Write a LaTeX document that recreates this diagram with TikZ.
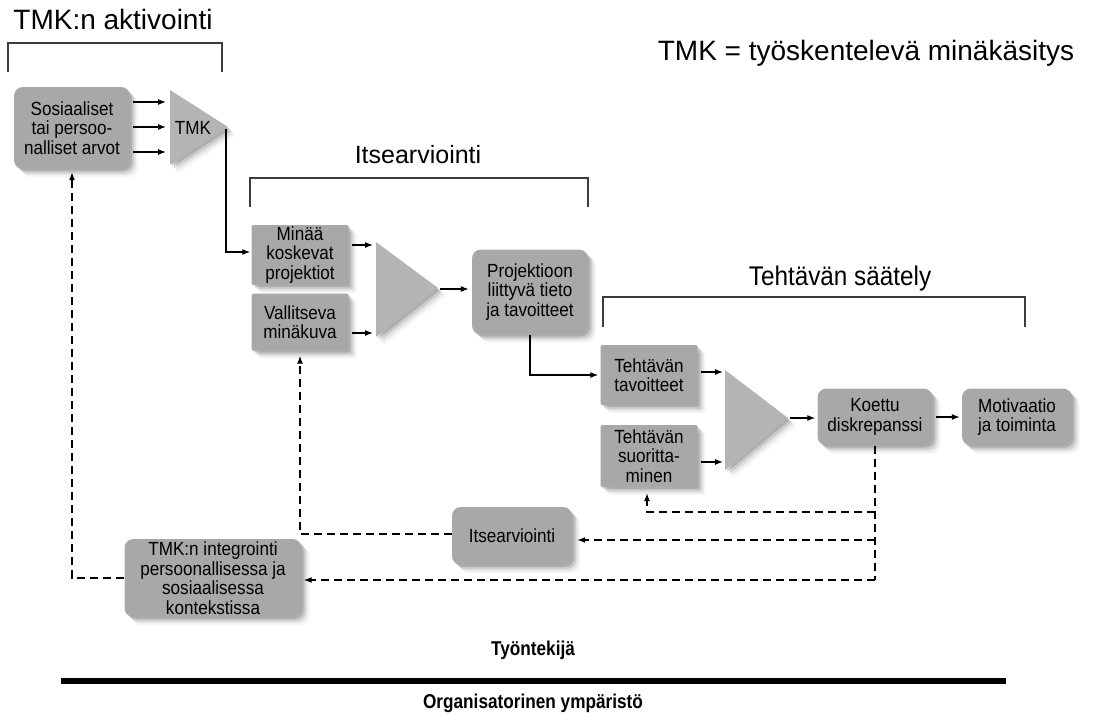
\documentclass[tikz,border=0pt]{standalone}
\usepackage{fontspec}
\setmainfont{Liberation Sans}
\newfontfamily\narrowfont{Liberation Sans}[FakeStretch=0.9]
\newfontfamily\narrowbold{Liberation Sans Bold}[FakeStretch=0.86]
\usetikzlibrary{arrows.meta,shadows,calc}
\definecolor{boxfill}{RGB}{168,168,168}
\definecolor{trifill}{RGB}{180,180,180}
\definecolor{brkcol}{RGB}{60,60,60}
\tikzset{
  x=1pt,y=-1pt,
  nodefont/.style={font=\narrowfont\fontsize{19}{19.5}\selectfont},
  shad/.style={
    general shadow={shadow xshift=2pt,shadow yshift=-2pt,opacity=0.14,fill=black},
    general shadow={shadow xshift=4pt,shadow yshift=-4pt,opacity=0.11,fill=black},
    general shadow={shadow xshift=6pt,shadow yshift=-6pt,opacity=0.07,fill=black},
    general shadow={shadow xshift=8pt,shadow yshift=-8pt,opacity=0.04,fill=black}},
  basebox/.style={nodefont,fill=boxfill,align=center,inner sep=0pt,shad},
  rbox/.style={basebox,rounded corners=9pt},
  sbox/.style={basebox,rounded corners=1.5pt},
  tri/.style={fill=trifill,shad},
  arr/.style={line width=1.2pt,-{Latex[length=8pt,width=6pt]}},
  dsh/.style={line width=1.2pt,dash pattern=on 8pt off 5pt},
  brk/.style={draw=brkcol,line width=1.6pt},
  head/.style={anchor=base,inner sep=0pt},
  foot/.style={font=\narrowbold\fontsize{20}{22}\selectfont,anchor=base,inner sep=0pt},
}
\begin{document}
\begin{tikzpicture}
\useasboundingbox (0,0) rectangle (1097,717);

% headers and brackets
\node[head,font=\fontsize{28}{30}\selectfont] (h1) at (113,30) {TMK:n aktivointi};
\node[head,font=\fontsize{28}{30}\selectfont] (hdef) at (866,60) {TMK = työskentelevä minäkäsitys};
\node[head,font=\fontsize{25}{28}\selectfont] (h2) at (418,163) {Itsearviointi};
\node[head,font=\narrowfont\fontsize{27}{28}\selectfont] (h3) at (840,285) {Tehtävän säätely};
\draw[brk] (8,72) -- (8,43) -- (222,43) -- (222,72);
\draw[brk] (250,207) -- (250,178) -- (588,178) -- (588,207);
\draw[brk] (603,327) -- (603,297) -- (1025,297) -- (1025,327);

% boxes
\node[rbox,minimum width=116pt,minimum height=82pt] (sos) at (72,128) {Sosiaaliset\\tai persoo-\\nalliset arvot};
\node[sbox,minimum width=97pt,minimum height=60pt] (minaa) at (300,255) {Minää\\koskevat\\projektiot};
\node[sbox,minimum width=97pt,minimum height=57pt] (vall) at (300,322) {Vallitseva\\minäkuva};
\node[rbox,minimum width=116pt,minimum height=85pt] (proj) at (530,292) {Projektioon\\liittyvä tieto\\ja tavoitteet};
\node[sbox,minimum width=97pt,minimum height=60pt] (teht) at (649,375) {Tehtävän\\tavoitteet};
\node[sbox,minimum width=97pt,minimum height=62pt] (suor) at (649,456) {Tehtävän\\suoritta-\\minen};
\node[rbox,minimum width=115pt,minimum height=57pt] (koet) at (875,417) {Koettu\\diskrepanssi};
\node[rbox,minimum width=110pt,minimum height=57pt] (moti) at (1017,417) {Motivaatio\\ja toiminta};
\node[rbox,minimum width=120pt,minimum height=58pt] (itse) at (512,536) {Itsearviointi};
\node[rbox,minimum width=177pt,minimum height=78pt] (integ) at (213,578) {TMK:n integrointi\\persoonallisessa ja\\sosiaalisessa\\kontekstissa};

% triangles
\fill[tri] (170,90) -- (228,127) -- (170,165) -- cycle;
\node[nodefont,inner sep=0pt] (tmk) at (193,128) {TMK};
\fill[tri] (376,242) -- (438,288) -- (376,337) -- cycle;
\fill[tri] (725,370) -- (788,418) -- (725,470) -- cycle;

\coordinate (t1a) at (166,102);
\coordinate (t1b) at (166,127);
\coordinate (t1c) at (166,152);
\coordinate (t1o) at (226,129);
\coordinate (t2a) at (373,245);
\coordinate (t2b) at (373,333);
\coordinate (t2o) at (440,289);
\coordinate (t3a) at (723,372);
\coordinate (t3b) at (723,462);
\coordinate (t3o) at (790,418);
\coordinate (j1) at (875,512);
\coordinate (j2) at (875,540);
\coordinate (j3) at (875,580);

% solid connectors
\draw[arr] ([xshift=3pt]sos.east |- t1a) -- (t1a);
\draw[arr] ([xshift=3pt]sos.east |- t1b) -- (t1b);
\draw[arr] ([xshift=3pt]sos.east |- t1c) -- (t1c);
\draw[arr] (t1o) |- ([xshift=-1pt,yshift=3pt]minaa.west);
\draw[arr] ([xshift=3pt]minaa.east |- t2a) -- (t2a);
\draw[arr] ([xshift=3pt]vall.east |- t2b) -- (t2b);
\draw[arr] (t2o) -- ([xshift=-3pt]t2o -| proj.west);
\draw[arr] (proj.south) |- ([xshift=-2pt]teht.west);
\draw[arr] ([xshift=3pt]teht.east |- t3a) -- (t3a);
\draw[arr] ([xshift=3pt]suor.east |- t3b) -- (t3b);
\draw[arr] (t3o) -- ([xshift=-2pt]t3o -| koet.west);
\draw[arr] ([xshift=3pt]koet.east) -- ([xshift=-2pt]moti.west);

% dashed feedback
\draw[dsh] (koet.south) -- (j3);
\draw[dsh,arr] (j1) -| ([xshift=-2pt,yshift=-6pt]suor.south);
\draw[dsh,arr] (j2) -- ([xshift=5pt]j2 -| itse.east);
\draw[dsh,arr] (j3) -- ([xshift=2pt]j3 -| integ.east);
\draw[dsh,arr] ([yshift=2pt]itse.west) -| ([yshift=-5pt]vall.south);
\draw[dsh,arr] (integ.west) -| ([yshift=-3pt]sos.south);

% bottom
\node[foot] (tyo) at (533,655) {Työntekijä};
\draw[line width=6pt] (61,681) -- (1006,681);
\node[foot] (org) at (533,708) {Organisatorinen ympäristö};
\end{tikzpicture}
\end{document}
